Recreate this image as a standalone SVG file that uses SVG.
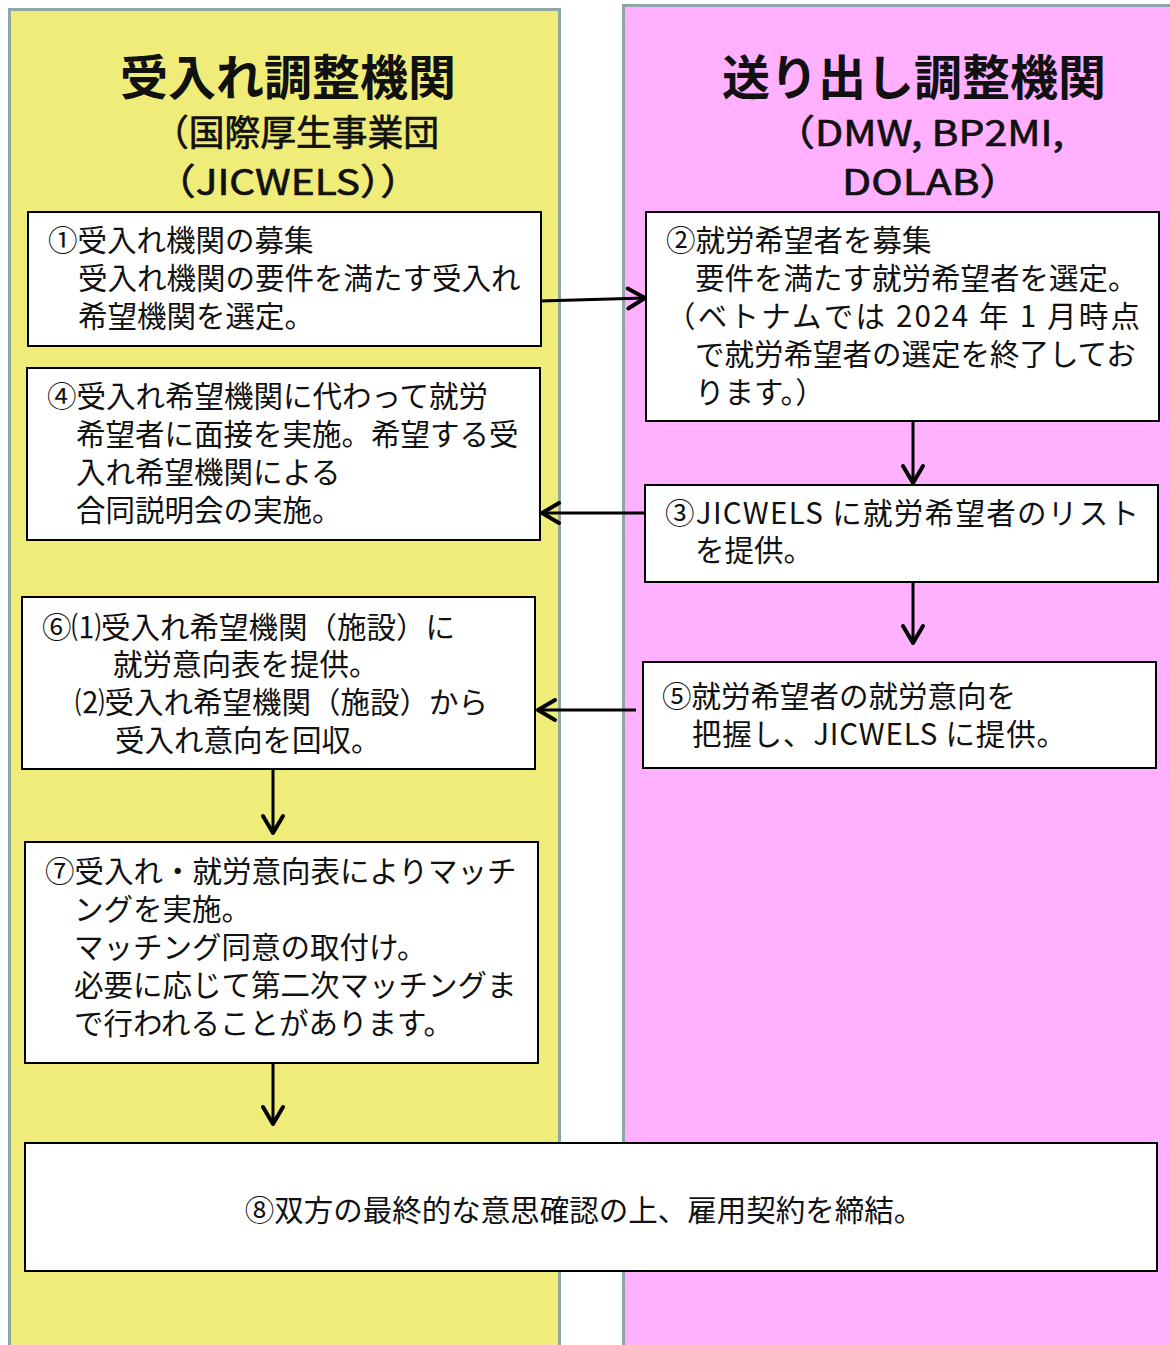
<svg xmlns="http://www.w3.org/2000/svg" width="1170" height="1345" viewBox="0 0 1170 1345">
<style>
.lane{stroke:#8fa6a6;stroke-width:3}
.box{fill:#fff;stroke:#000;stroke-width:2}
.t{font-family:"Noto Sans CJK JP","Noto Sans",sans-serif;font-size:29.5px;fill:#111}
.h1{font-family:"Noto Sans CJK JP","Noto Sans",sans-serif;font-size:48px;font-weight:bold;fill:#111}
.h2{font-family:"Noto Sans CJK JP","Noto Sans",sans-serif;font-size:36px;fill:#111;stroke:#111;stroke-width:0.7}
.c{fill:none;stroke:#000;stroke-width:3}
</style>
<defs>
<marker id="ah" markerUnits="userSpaceOnUse" viewBox="0 0 24 26" markerWidth="24" markerHeight="26" refX="21" refY="13" orient="auto">
<path d="M4,3 L21,13 L4,23" fill="none" stroke="#000" stroke-width="4" stroke-linecap="round" stroke-linejoin="round"/>
</marker>
</defs>
<rect width="1170" height="1345" fill="#fff"/>
<g id="lane-left">
<rect class="lane" x="9.5" y="9.5" width="550" height="1345" fill="#f0ec7a"/>
<text class="h1" x="288" y="95" text-anchor="middle">受入れ調整機関</text>
<text class="h2" x="153" y="146" textLength="286" lengthAdjust="spacingAndGlyphs">（国際厚生事業団</text>
<text class="h2" x="155" y="195" textLength="266" lengthAdjust="spacingAndGlyphs">（JICWELS））</text>
</g>
<g id="lane-right">
<rect class="lane" x="623.5" y="5.5" width="560" height="1350" fill="#ffb0ff"/>
<text class="h1" x="914" y="95" text-anchor="middle">送り出し調整機関</text>
<text class="h2" x="774" y="146" textLength="290" lengthAdjust="spacingAndGlyphs">（DMW, BP2MI,</text>
<text class="h2" x="842" y="195" textLength="180" lengthAdjust="spacingAndGlyphs">DOLAB）</text>
</g>
<g id="connectors">
<line class="c" x1="540" y1="301" x2="645" y2="298" marker-end="url(#ah)"/>
<line class="c" x1="913" y1="421" x2="913" y2="483" marker-end="url(#ah)"/>
<line class="c" x1="645" y1="513" x2="542" y2="513" marker-end="url(#ah)"/>
<line class="c" x1="913" y1="582" x2="913" y2="643" marker-end="url(#ah)"/>
<line class="c" x1="636" y1="710" x2="538" y2="710" marker-end="url(#ah)"/>
<line class="c" x1="273" y1="769" x2="273" y2="833" marker-end="url(#ah)"/>
<line class="c" x1="273" y1="1063" x2="273" y2="1124" marker-end="url(#ah)"/>
</g>
<g id="node1">
<rect class="box" x="28" y="212" width="513" height="134"/>
<text class="t" x="48" y="251">①受入れ機関の募集</text>
<text class="t" x="78" y="289">受入れ機関の要件を満たす受入れ</text>
<text class="t" x="78" y="327">希望機関を選定。</text>
</g>
<g id="node2">
<rect class="box" x="646" y="212" width="513" height="209"/>
<text class="t" x="666" y="251">②就労希望者を募集</text>
<text class="t" x="695" y="289">要件を満たす就労希望者を選定。</text>
<text class="t" x="666" y="327" textLength="474" lengthAdjust="spacing">（ベトナムでは 2024 年 1 月時点</text>
<text class="t" x="695" y="365">で就労希望者の選定を終了してお</text>
<text class="t" x="695" y="403">ります。）</text>
</g>
<g id="node3">
<rect class="box" x="645" y="485" width="513" height="97"/>
<text class="t" x="665" y="524" textLength="474" lengthAdjust="spacing">③JICWELS に就労希望者のリスト</text>
<text class="t" x="695" y="561">を提供。</text>
</g>
<g id="node4">
<rect class="box" x="27" y="368" width="513" height="172"/>
<text class="t" x="47" y="407">④受入れ希望機関に代わって就労</text>
<text class="t" x="76" y="445">希望者に面接を実施。希望する受</text>
<text class="t" x="76" y="483">入れ希望機関による</text>
<text class="t" x="76" y="521">合同説明会の実施。</text>
</g>
<g id="node5">
<rect class="box" x="643" y="662" width="513" height="106"/>
<text class="t" x="662" y="707">⑤就労希望者の就労意向を</text>
<text class="t" x="692" y="745" textLength="374" lengthAdjust="spacing">把握し、JICWELS に提供。</text>
</g>
<g id="node6">
<rect class="box" x="22" y="597" width="513" height="172"/>
<text class="t" x="42" y="638">⑥⑴受入れ希望機関（施設）に</text>
<text class="t" x="113" y="675">就労意向表を提供。</text>
<text class="t" x="75" y="713">⑵受入れ希望機関（施設）から</text>
<text class="t" x="115" y="751">受入れ意向を回収。</text>
</g>
<g id="node7">
<rect class="box" x="25" y="842" width="513" height="221"/>
<text class="t" x="45" y="882">⑦受入れ・就労意向表によりマッチ</text>
<text class="t" x="74" y="920">ングを実施。</text>
<text class="t" x="74" y="958">マッチング同意の取付け。</text>
<text class="t" x="74" y="996">必要に応じて第二次マッチングま</text>
<text class="t" x="74" y="1034">で行われることがあります。</text>
</g>
<g id="node8">
<rect class="box" x="25" y="1143" width="1132" height="128" stroke-width="2.5"/>
<text class="t" x="584" y="1221" text-anchor="middle">⑧双方の最終的な意思確認の上、雇用契約を締結。</text>
</g>
</svg>
